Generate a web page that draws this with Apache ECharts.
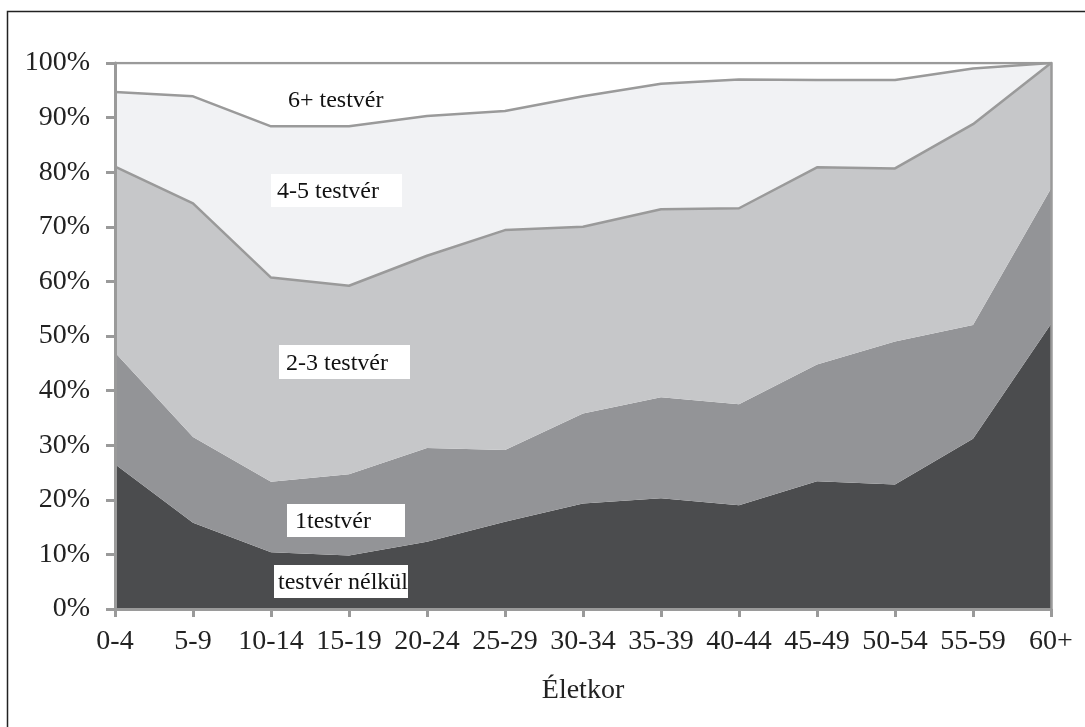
<!DOCTYPE html>
<html>
<head>
<meta charset="utf-8">
<script src="https://cdn.jsdelivr.net/npm/echarts@6/dist/echarts.min.js"></script>
<style>
html,body{margin:0;padding:0;background:#fff;}
#c{width:1085px;height:727px;}
</style>
</head>
<body>
<div id="c"></div>
<script>
var categories = ['0-4','5-9','10-14','15-19','20-24','25-29','30-34','35-39','40-44','45-49','50-54','55-59','60+'];
var nelkul = [26.5, 15.8, 10.4, 9.8, 12.3, 16.0, 19.3, 20.3, 19.0, 23.4, 22.8, 31.2, 52.2];
var egy    = [20.5, 15.7, 12.9, 14.9, 17.2, 13.1, 16.5, 18.5, 18.5, 21.4, 26.2, 20.8, 24.8];
var ketto  = [34.0, 42.8, 37.4, 34.5, 35.2, 40.3, 34.2, 34.4, 35.9, 36.1, 31.7, 36.8, 23.0];
var negy   = [13.7, 19.6, 27.7, 29.2, 25.6, 21.8, 23.9, 23.0, 23.6, 16.0, 16.2, 10.2, 0];
var hat    = [5.3, 6.1, 11.6, 11.6, 9.7, 8.8, 6.1, 3.8, 3.0, 3.1, 3.1, 1.0, 0];
var seriesNames = ['testvér nélkül','1testvér','2-3 testvér','4-5 testvér','6+ testvér'];
var yTicks = [0,10,20,30,40,50,60,70,80,90,100];

var FONT = '"Liberation Serif", "Times New Roman", serif';
var LINE = '#9a9a9a';
var chart = echarts.init(document.getElementById('c'), null, {renderer:'canvas'});

function areaSeries(name, data, color, showLine){
  return {
    name: name, type: 'line', stack: 'all', data: data,
    symbol: 'none', smooth: false,
    lineStyle: showLine ? {color: LINE, width: 2.5} : {width: 0, opacity: 0},
    areaStyle: {color: color, opacity: 1},
    itemStyle: {color: color},
    z: 2
  };
}

function labelBox(txt, rx, ry, rw, rh, tx, ty, box){
  var children = [];
  if (box) children.push({type:'rect', shape:{x:rx, y:ry, width:rw, height:rh}, style:{fill:'#fff'}, z:100});
  children.push({type:'text', x:tx, y:ty, style:{text:txt, font:'24px ' + FONT, fill:'#111', textVerticalAlign:'middle', textAlign:'left'}, z:101});
  return children;
}

var g = [];
g.push({type:'polyline', shape:{points:[[7.5,727],[7.5,11.5],[1085,11.5]]}, style:{stroke:'#222', lineWidth:1.5, fill:null}, z:100});
g = g.concat(labelBox(seriesNames[4], 0,0,0,0, 288, 101, false));
g = g.concat(labelBox(seriesNames[3], 271, 174, 131, 33, 277, 192, true));
g = g.concat(labelBox(seriesNames[2], 279, 345, 131, 34, 286, 364, true));
g = g.concat(labelBox(seriesNames[1], 287, 504, 118, 33, 295, 522, true));
g = g.concat(labelBox(seriesNames[0], 274, 565, 134, 33, 278, 583, true));

chart.setOption({
  animation: false,
  backgroundColor: '#fff',
  grid: {left: 115, right: 34, top: 63, bottom: 118, containLabel: false},
  xAxis: {
    type: 'category', data: categories, boundaryGap: false,
    name: 'Életkor', nameLocation: 'middle', nameGap: 68,
    nameTextStyle: {fontFamily: FONT, fontSize: 28, color: '#222'},
    axisLine: {show: true, lineStyle: {color: LINE, width: 3}},
    axisTick: {show: true, alignWithLabel: true, length: 8, lineStyle: {color: LINE, width: 3}},
    axisLabel: {fontFamily: FONT, fontSize: 28, color: '#222', margin: 19, interval: 0},
    splitLine: {show: false},
    z: 10
  },
  yAxis: [{
    type: 'value', min: 0, max: 100, interval: 10,
    axisLine: {show: true, lineStyle: {color: LINE, width: 3}},
    axisTick: {show: true, length: 9, lineStyle: {color: LINE, width: 3}},
    axisLabel: {fontFamily: FONT, fontSize: 28, color: '#222', margin: 25,
      formatter: function(v){ return yTicks.indexOf(v) >= 0 ? v + '%' : ''; }},
    splitLine: {show: false},
    z: 10
  },{
    type: 'value', min: 0, max: 100, interval: 10, position: 'right',
    axisLine: {show: true, lineStyle: {color: LINE, width: 2.5}},
    axisTick: {show: false}, axisLabel: {show: false}, splitLine: {show: false},
    z: 10
  }],
  series: [
    areaSeries(seriesNames[0], nelkul, '#4b4c4e', false),
    areaSeries(seriesNames[1], egy, '#939497', false),
    areaSeries(seriesNames[2], ketto, '#c6c7c9', true),
    areaSeries(seriesNames[3], negy, '#f1f2f4', true),
    areaSeries(seriesNames[4], hat, '#ffffff', true)
  ],
  graphic: g
});
</script>
</body>
</html>
